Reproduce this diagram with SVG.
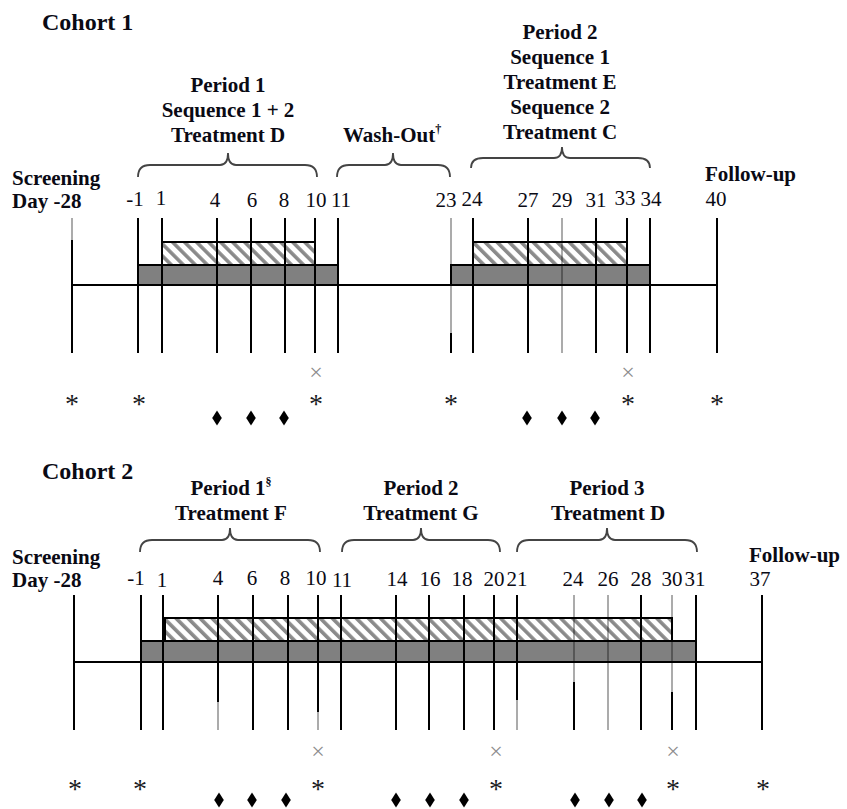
<svg xmlns="http://www.w3.org/2000/svg" width="847" height="809" viewBox="0 0 847 809">
<style>
.lbl{font-family:"Liberation Serif","Times New Roman",serif;font-weight:bold;font-size:21px;fill:#0a0a14}
.ttl{font-family:"Liberation Serif","Times New Roman",serif;font-weight:bold;font-size:24px;fill:#0a0a14}
.num{font-family:"Liberation Serif","Times New Roman",serif;font-size:21px;fill:#0a0a14;text-anchor:middle}
.c{text-anchor:middle}
.sup{font-size:12px}
.ast{font-family:"Liberation Serif","Times New Roman",serif;font-size:28px;fill:#1a1a22;text-anchor:middle}
.x{font-family:"Liberation Serif","Times New Roman",serif;font-size:24px;fill:#8c8c8c;text-anchor:middle}
.v{stroke:#000;stroke-width:2;fill:none}
.g{stroke:#000;stroke-opacity:0.33;stroke-width:2;fill:none}
.base{stroke:#000;stroke-width:2;fill:none}
.bar{fill:#808080;stroke:#000;stroke-width:2}
.hat{fill:url(#hatch);stroke:#000;stroke-width:2}
.brace{stroke:#444;stroke-width:1.8;fill:none}
.dia{fill:#000}
</style>
<defs>
<pattern id="hatch" patternUnits="userSpaceOnUse" width="8.5" height="8.5" patternTransform="rotate(-45)">
<rect width="8.5" height="8.5" fill="#fff"/>
<rect x="0" y="0" width="3.6" height="8.5" fill="#8a8a8a"/>
</pattern>
<polygon id="d" points="0,-7.5 4.8,0 0,7.5 -4.8,0"/>
</defs>

<g id="cohort1">
<text class="ttl" x="42" y="30">Cohort 1</text>
<g id="c1-labels">
<text class="lbl c" x="228" y="92">Period 1</text>
<text class="lbl c" x="228" y="117">Sequence 1 + 2</text>
<text class="lbl c" x="228" y="142">Treatment D</text>
<text class="lbl" x="343" y="142">Wash-Out<tspan class="sup" dy="-9">†</tspan></text>
<text class="lbl c" x="560" y="39">Period 2</text>
<text class="lbl c" x="560" y="64">Sequence 1</text>
<text class="lbl c" x="560" y="89">Treatment E</text>
<text class="lbl c" x="560" y="114">Sequence 2</text>
<text class="lbl c" x="560" y="139">Treatment C</text>
<text class="lbl" x="12" y="185">Screening</text>
<text class="lbl" x="12" y="208">Day -28</text>
<text class="lbl" x="705" y="181">Follow-up</text>
<text class="num" x="716" y="206">40</text>
</g>
<g id="c1-braces">
<path class="brace" d="M138,177 Q138,165 150,165 L220,165 Q228,165 228,153 Q228,165 236,165 L305,165 Q317,165 317,177"/>
<path class="brace" d="M337,177 Q337,165 349,165 L385,165 Q393,165 393,153 Q393,165 401,165 L438,165 Q450,165 450,177"/>
<path class="brace" d="M471,168 Q471,158 483,158 L554,158 Q562,158 562,147 Q562,158 570,158 L638,158 Q650,158 650,168"/>
</g>
<g id="c1-days">
<text class="num" x="135" y="206">-1</text>
<text class="num" x="161" y="205">1</text>
<text class="num" x="215" y="207">4</text>
<text class="num" x="252" y="207">6</text>
<text class="num" x="284" y="207">8</text>
<text class="num" x="316" y="207">10</text>
<text class="num" x="341" y="207">11</text>
<text class="num" x="446" y="207">23</text>
<text class="num" x="472" y="206">24</text>
<text class="num" x="528" y="207">27</text>
<text class="num" x="562" y="207">29</text>
<text class="num" x="596" y="207">31</text>
<text class="num" x="625" y="205">33</text>
<text class="num" x="651" y="206">34</text>
</g>
<g id="c1-bars">
<rect class="bar" x="138" y="265" width="200" height="20"/>
<rect class="bar" x="451" y="265" width="199" height="20"/>
<rect class="hat" x="162" y="242" width="153" height="23"/>
<rect class="hat" x="473" y="242" width="154" height="23"/>
<line class="base" x1="72" y1="285" x2="717" y2="285"/>
</g>
<g id="c1-ticks">
<path class="g" d="M72,218 V240"/>
<path class="v" d="M72,240 V353 M138,218 V353 M162,218 V353 M217,218 V353 M251,218 V353 M285,218 V353 M315,218 V353 M338,218 V353 M473,218 V353 M528,218 V353 M596,218 V353 M627,218 V353 M650,218 V353 M717,218 V353"/>
<path class="g" d="M451,218 V264 M451,286 V333 M562,218 V353"/>
<path class="v" d="M451,333 V353"/>
</g>
<g id="c1-marks">
<text class="x" x="316" y="380">×</text>
<text class="x" x="628" y="380">×</text>
<text class="ast" x="72" y="413">*</text>
<text class="ast" x="139" y="413">*</text>
<text class="ast" x="316" y="413">*</text>
<text class="ast" x="451" y="413">*</text>
<text class="ast" x="628" y="413">*</text>
<text class="ast" x="717" y="413">*</text>
<use href="#d" class="dia" x="217" y="418"/>
<use href="#d" class="dia" x="251" y="418"/>
<use href="#d" class="dia" x="284" y="418"/>
<use href="#d" class="dia" x="527" y="418"/>
<use href="#d" class="dia" x="562" y="418"/>
<use href="#d" class="dia" x="595" y="418"/>
</g>
</g>

<g id="cohort2">
<text class="ttl" x="42" y="479">Cohort 2</text>
<g id="c2-labels">
<text class="lbl c" x="231" y="495">Period 1<tspan class="sup" dy="-9">§</tspan></text>
<text class="lbl c" x="231" y="520">Treatment F</text>
<text class="lbl c" x="421" y="495">Period 2</text>
<text class="lbl c" x="421" y="520">Treatment G</text>
<text class="lbl c" x="607" y="495">Period 3</text>
<text class="lbl c" x="608" y="520">Treatment D</text>
<text class="lbl" x="12" y="564">Screening</text>
<text class="lbl" x="12" y="587">Day -28</text>
<text class="lbl" x="749" y="562">Follow-up</text>
<text class="num" x="760" y="586">37</text>
</g>
<g id="c2-braces">
<path class="brace" d="M140,552 Q140,540 152,540 L222,540 Q230,540 230,528 Q230,540 238,540 L308,540 Q320,540 320,552"/>
<path class="brace" d="M342,552 Q342,540 354,540 L413,540 Q421,540 421,528 Q421,540 429,540 L488,540 Q500,540 500,552"/>
<path class="brace" d="M517,552 Q517,540 529,540 L599,540 Q607,540 607,528 Q607,540 615,540 L685,540 Q697,540 697,552"/>
</g>
<g id="c2-days">
<text class="num" x="136" y="585">-1</text>
<text class="num" x="162" y="587">1</text>
<text class="num" x="218" y="585">4</text>
<text class="num" x="252" y="585">6</text>
<text class="num" x="285" y="585">8</text>
<text class="num" x="316" y="585">10</text>
<text class="num" x="342" y="587">11</text>
<text class="num" x="397" y="586">14</text>
<text class="num" x="430" y="586">16</text>
<text class="num" x="462" y="586">18</text>
<text class="num" x="494" y="586">20</text>
<text class="num" x="517" y="586">21</text>
<text class="num" x="573" y="586">24</text>
<text class="num" x="608" y="586">26</text>
<text class="num" x="641" y="586">28</text>
<text class="num" x="672" y="586">30</text>
<text class="num" x="695" y="586">31</text>
</g>
<g id="c2-bars">
<rect class="bar" x="141" y="641" width="555" height="21"/>
<rect class="hat" x="163" y="618" width="509" height="23"/>
<line x1="164" y1="617" x2="164" y2="641" stroke="#000" stroke-width="4"/>
<line class="base" x1="74" y1="662" x2="762" y2="662"/>
</g>
<g id="c2-ticks">
<path class="v" d="M74,595 V730 M141,595 V730 M163,595 V730 M218,595 V702 M253,595 V730 M288,595 V730 M318,595 V712 M341,595 V730 M396,595 V730 M429,595 V730 M464,595 V730 M494,595 V730 M517,595 V700 M574,682 V730 M641,595 V730 M672,692 V730 M696,595 V730 M762,595 V730"/>
<path class="g" d="M218,702 V730 M318,712 V730 M517,700 V730 M574,595 V682 M608,595 V730 M672,595 V617 M672,642 V692"/>
</g>
<g id="c2-marks">
<text class="x" x="318" y="759">×</text>
<text class="x" x="496" y="759">×</text>
<text class="x" x="673" y="759">×</text>
<text class="ast" x="75" y="798">*</text>
<text class="ast" x="140" y="798">*</text>
<text class="ast" x="318" y="798">*</text>
<text class="ast" x="496" y="798">*</text>
<text class="ast" x="673" y="798">*</text>
<text class="ast" x="763" y="798">*</text>
<use href="#d" class="dia" x="219" y="800"/>
<use href="#d" class="dia" x="252" y="800"/>
<use href="#d" class="dia" x="286" y="800"/>
<use href="#d" class="dia" x="396" y="800"/>
<use href="#d" class="dia" x="430" y="800"/>
<use href="#d" class="dia" x="464" y="800"/>
<use href="#d" class="dia" x="575" y="800"/>
<use href="#d" class="dia" x="609" y="800"/>
<use href="#d" class="dia" x="642" y="800"/>
</g>
</g>
</svg>
